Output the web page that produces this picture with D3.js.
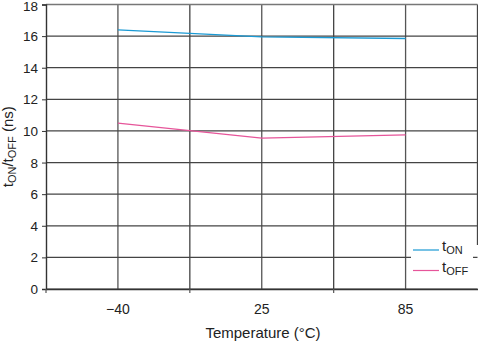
<!DOCTYPE html>
<html><head><meta charset="utf-8">
<script src="https://cdn.jsdelivr.net/npm/d3@7"></script>
<style>body{margin:0;background:#fff}svg{display:block;font-family:"Liberation Sans",Arial,sans-serif}</style>
</head><body><svg id="c" width="478" height="341"></svg>
<script>
const categories = ["\u221240", "25", "85"];
const tOn = [16.4, 15.95, 15.85];
const tOff = [10.5, 9.55, 9.75];
const yTicks = [0, 2, 4, 6, 8, 10, 12, 14, 16, 18];

const svg = d3.select("#c");
const L = 46, R = 477.5, T = 4.5, B = 289;
const x = d3.scaleBand().domain(categories).range([L, R]).padding(0);
const y = d3.scaleLinear().domain([0, 18]).range([B, T]);
const half = x.bandwidth() / 2;

// vertical grid: band boundaries and centers
const vlines = [];
categories.forEach((c, i) => { vlines.push(x(c)); vlines.push(x(c) + half); });
vlines.push(R);
const g = svg.append("g");
g.selectAll("line.v").data(vlines.slice(1)).join("line")
  .attr("x1", d => d).attr("x2", d => d).attr("y1", T).attr("y2", (d, i) => d === R ? 245 : B)
  .attr("stroke", (d, i) => i % 2 === 0 ? "#555" : "#444").attr("stroke-width", 1.3);
g.selectAll("line.h").data(yTicks).join("line")
  .attr("x1", L).attr("x2", R).attr("y1", d => y(d)).attr("y2", d => y(d))
  .attr("stroke", d => d === 18 ? "#777" : "#444").attr("stroke-width", d => d === 18 ? 1.6 : 1.2);

// y axis
const yAxis = d3.axisLeft(y).tickValues(yTicks).tickSize(4).tickPadding(4);
const ya = svg.append("g").attr("transform", `translate(${L},0)`).call(yAxis);
ya.select(".domain").attr("stroke", "#333").attr("stroke-width", 1.4);
ya.selectAll(".tick line").attr("stroke", "#333");
ya.selectAll("text").attr("font-size", 13.5).attr("fill", "#222").attr("font-family", "Liberation Sans, Arial, sans-serif")
  .attr("dy", d => d === 18 ? "0.42em" : "0.34em");

// x axis
const xAxis = d3.axisBottom(x).tickSize(0).tickPadding(15);
const xa = svg.append("g").attr("transform", `translate(0,${B})`).call(xAxis);
xa.select(".domain").attr("stroke", "#333").attr("stroke-width", 1.4);
xa.selectAll("text").attr("font-size", 14).attr("fill", "#222").attr("font-family", "Liberation Sans, Arial, sans-serif");
// minor ticks at band boundaries
svg.selectAll("line.bt").data([L, ...categories.slice(1).map(c => x(c))]).join("line")
  .attr("x1", d => d).attr("x2", d => d).attr("y1", B).attr("y2", B + 4)
  .attr("stroke", "#555").attr("stroke-width", 1.2);

// lines
const line = d3.line().x((d, i) => x(categories[i]) + half).y(d => y(d));
svg.append("path").datum(tOn).attr("d", line).attr("fill", "none").attr("stroke", "#1b9ad4").attr("stroke-width", 1.3);
svg.append("path").datum(tOff).attr("d", line).attr("fill", "none").attr("stroke", "#e6559a").attr("stroke-width", 1.3);

// legend
const lg = svg.append("g");
lg.append("rect").attr("x", 411).attr("y", 242).attr("width", 62).attr("height", 44).attr("fill", "#fff");
const items = [["ON", "#1b9ad4", 250], ["OFF", "#e6559a", 270.5]];
items.forEach(([sub, col, yy]) => {
  lg.append("line").attr("x1", 413).attr("x2", 439).attr("y1", yy).attr("y2", yy).attr("stroke", col).attr("stroke-width", 1.2);
  const t = lg.append("text").attr("x", 442).attr("y", yy + 1).attr("font-size", 15).attr("fill", "#222");
  t.append("tspan").text("t");
  t.append("tspan").attr("dy", 3).attr("font-size", 11).text(sub);
});

// axis titles
svg.append("text").attr("x", 263).attr("y", 338).attr("text-anchor", "middle")
  .attr("font-size", 15).attr("fill", "#222").text("Temperature (\u00B0C)");
const yt = svg.append("text").attr("transform", `translate(13,${(T + B) / 2}) rotate(-90)`)
  .attr("text-anchor", "middle").attr("font-size", 15).attr("fill", "#222");
yt.append("tspan").text("t");
yt.append("tspan").attr("dy", 3).attr("font-size", 11).text("ON");
yt.append("tspan").attr("dy", -3).text("/t");
yt.append("tspan").attr("dy", 3).attr("font-size", 11).text("OFF");
yt.append("tspan").attr("dy", -3).text(" (ns)");
</script></body></html>
